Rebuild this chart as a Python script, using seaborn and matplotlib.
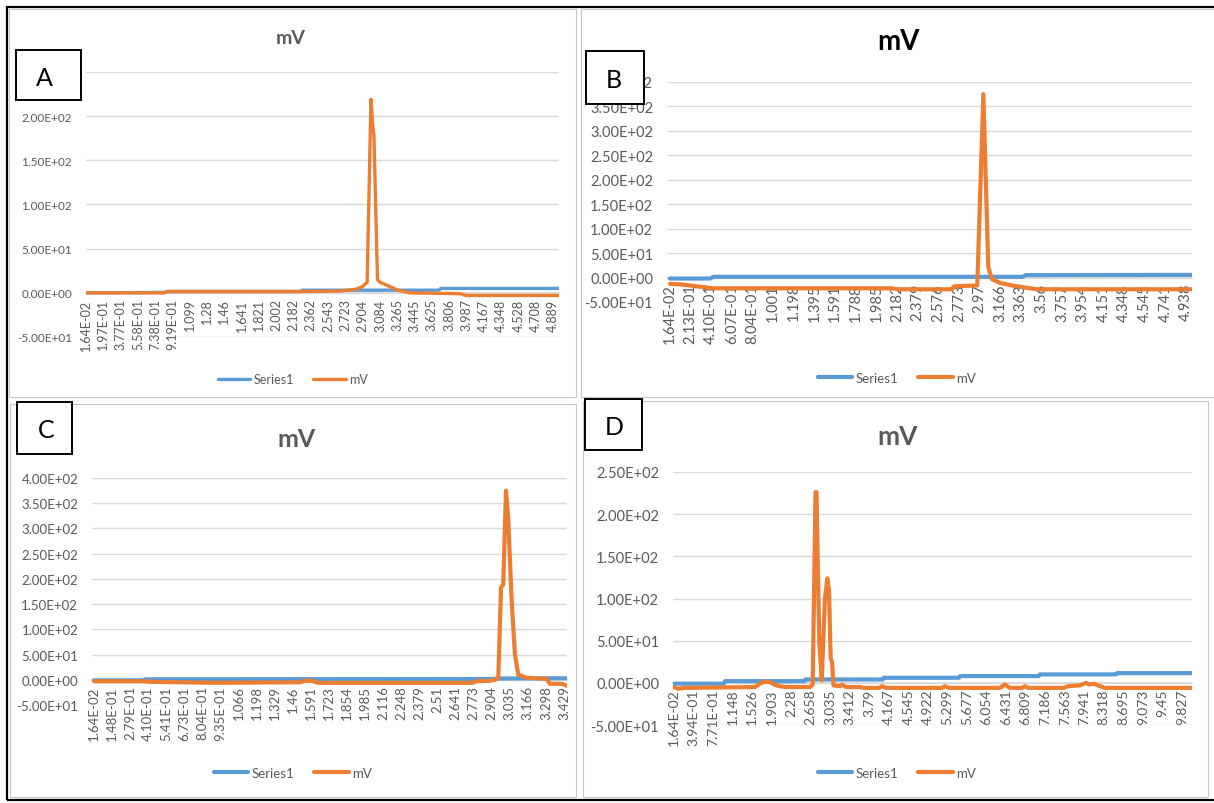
import matplotlib
matplotlib.use("Agg")
import numpy as np
import matplotlib.pyplot as plt
import seaborn as sns
from matplotlib.patches import Rectangle
from matplotlib.lines import Line2D
from matplotlib.ticker import FuncFormatter

# ---------------- data ----------------
A_labels = ["1.64E-02", "1.97E-01", "3.77E-01", "5.58E-01", "7.38E-01", "9.19E-01", "1.099",
            "1.28", "1.46", "1.641", "1.821", "2.002", "2.182", "2.362", "2.543", "2.723",
            "2.904", "3.084", "3.265", "3.445", "3.625", "3.806", "3.987", "4.167", "4.348",
            "4.528", "4.708", "4.889"]
A_mv_t = [0.0164, 0.84, 0.86, 2.25, 2.67, 2.83, 2.90, 2.95, 2.99, 3.006, 3.021, 3.058, 3.084,
          3.167, 3.272, 3.397, 3.919, 3.981, 4.952]
A_mv = [0, 0, 1.5, 1.5, 2, 4, 7, 12, 219, 192, 178, 15, 12, 8, 3, 0, -1, -3, -3]
A_s1_t = [0.0164, 0.84, 0.86, 2.25, 2.27, 3.70, 3.72, 4.952]
A_s1 = [0, 0.5, 1.5, 1.5, 3, 3, 5, 5]

B_labels = ["1.64E-02", "2.13E-01", "4.10E-01", "6.07E-01", "8.04E-01", "1.001", "1.198",
            "1.395", "1.591", "1.788", "1.985", "2.182", "2.379", "2.576", "2.773", "2.97",
            "3.166", "3.363", "3.56", "3.757", "3.954", "4.151", "4.348", "4.545", "4.741",
            "4.938"]
B_mv_t = [0.0164, 0.12, 0.43, 2.13, 2.19, 2.706, 2.725, 2.947, 3.005, 3.052, 3.085, 3.164,
          3.288, 3.422, 3.517, 4.995]
B_mv = [-13, -14, -22, -22, -24, -24, -18, -16, 375, 22, -3, -11, -16.5, -21, -24, -24]
B_s1_t = [0.0164, 0.40, 0.43, 3.38, 3.41, 4.995]
B_s1 = [-2, -2, 1.5, 1.5, 5, 5.5]

C_labels = ["1.64E-02", "1.48E-01", "2.79E-01", "4.10E-01", "5.41E-01", "6.73E-01",
            "8.04E-01", "9.35E-01", "1.066", "1.198", "1.329", "1.46", "1.591", "1.723",
            "1.854", "1.985", "2.116", "2.248", "2.379", "2.51", "2.641", "2.773", "2.904",
            "3.035", "3.166", "3.298", "3.429"]
C_mv_t = [0.0164, 0.372, 0.423, 0.880, 1.512, 1.548, 1.599, 1.643, 2.768, 2.790, 2.892,
          2.928, 2.952, 2.972, 2.988, 3.008, 3.024, 3.049, 3.073, 3.097, 3.158, 3.303,
          3.327, 3.414, 3.451]
C_mv = [-3, -3, -4, -6, -5, -2, -2, -6, -6, -3, -2, 0, 4, 183, 189, 375, 321, 157, 50, 10,
        4, 2, -8, -8, -12]
C_s1_t = [0.0164, 0.37, 0.39, 2.90, 2.95, 3.451]
C_s1 = [-1, -1, 1, 1.5, 2.5, 3]

D_labels = ["1.64E-02", "3.94E-01", "7.71E-01", "1.148", "1.526", "1.903", "2.28", "2.658",
            "3.035", "3.412", "3.79", "4.167", "4.545", "4.922", "5.299", "5.677", "6.054",
            "6.431", "6.809", "7.186", "7.563", "7.941", "8.318", "8.695", "9.073", "9.45",
            "9.827"]
D_mv_t = [0.0164, 0.094, 0.229, 1.581, 1.677, 1.774, 1.870, 1.948, 2.063, 2.179, 2.643,
          2.695, 2.749, 2.768, 2.822, 2.869, 2.932, 2.977, 3.010, 3.042, 3.068, 3.096,
          3.222, 3.260, 3.338, 3.608, 3.686, 3.975, 4.033, 4.111, 5.192, 5.250, 5.327,
          6.312, 6.408, 6.505, 6.737, 6.795, 6.853, 7.548, 7.625, 7.857, 7.973, 8.031,
          8.127, 8.243, 8.340, 10.02]
D_mv = [-5, -7, -6, -5, -1, 1.5, 1, -2, -4, -5, -5, -2, 226, 226, 49, 3, 100, 124, 110, 29,
        25, -3, -4, -2, -5, -5, -6, -6, -4, -6, -6, -4, -6, -6, -2, -6, -6, -4, -6, -6, -4,
        -3, 0, -2, -1, -4, -6, -6]
D_s1_t = [0.0164, 0.98, 1.0, 2.53, 2.55, 4.05, 4.07, 5.52, 5.54, 7.06, 7.08, 8.55, 8.57, 10.02]
D_s1 = [-1, -1, 2, 2, 4, 4, 6, 6, 8, 8, 10, 10, 11.5, 11.5]

SERIES_NAMES = ["Series1", "mV"]

# ---------------- style ----------------
sns.set_theme(style="white")
plt.rcParams['font.family'] = ['Lato', 'DejaVu Sans']

W, H = 1214, 804
fig = plt.figure(figsize=(W / 100, H / 100), dpi=100)
fig.patch.set_facecolor("white")

BLUE = "#5B9BD5"
ORANGE = "#ED7D31"
GRAY = "#595959"
GRID = "#D9D9D9"


def fx(px):
    return px / W


def fy(py):
    return 1 - py / H


def frame(x0, y0, x1, y1, color, lw, face="none", z=0.5):
    fig.add_artist(Rectangle((fx(x0), fy(y1)), (x1 - x0) / W, (y1 - y0) / H,
                             transform=fig.transFigure, facecolor=face,
                             edgecolor=color, lw=lw, zorder=z))


def draw_panel(box, xmin, xmax, ylim, labels, s1_t, s1, mv_t, mv, lw, tick_fs, ytick_fs,
               title_xy, title_fs, title_color, letter, letter_box, letter_xy, legend_xy,
               legend_fs, hide_top=False):
    x0, y0, x1, y1 = box
    ax = fig.add_axes([fx(x0), fy(y1), (x1 - x0) / W, (y1 - y0) / H])
    ax.set_facecolor("none")
    sns.lineplot(x=s1_t, y=s1, ax=ax, color=BLUE, lw=lw, sort=False, estimator=None)
    sns.lineplot(x=mv_t, y=mv, ax=ax, color=ORANGE, lw=lw, sort=False, estimator=None)
    for s in ["top", "right", "left"]:
        ax.spines[s].set_visible(False)
    ax.spines["bottom"].set_position(("data", 0))
    ax.spines["bottom"].set_color(GRID)
    ax.spines["bottom"].set_zorder(0.5)
    ax.set_xlim(xmin, xmax)
    ax.set_ylim(*ylim)
    ax.set_yticks(np.arange(ylim[0], ylim[1] + 1, 50))
    top = ylim[1]

    def fmt(v, p):
        if hide_top and v >= top:
            return ""
        return f"{v:.2E}"

    ax.yaxis.set_major_formatter(FuncFormatter(fmt))
    ax.set_xticks([float(s) for s in labels])
    ax.set_xticklabels(labels)
    ax.grid(axis="y", color=GRID, lw=1)
    ax.grid(axis="x", visible=False)
    ax.set_axisbelow(True)
    ax.tick_params(axis="both", length=0, colors=GRAY)
    ax.tick_params(axis="x", labelsize=tick_fs, pad=4, labelrotation=90)
    ax.tick_params(axis="y", labelsize=ytick_fs, pad=10)
    ax.set_xlabel("")
    ax.set_ylabel("")

    fig.text(fx(title_xy[0]), fy(title_xy[1]), "mV", ha="center", va="center",
             fontsize=title_fs, fontweight="bold", color=title_color)

    bx0, by0, bx1, by1 = letter_box
    frame(bx0, by0, bx1, by1, "black", 1.4, face="white", z=5)
    fig.text(fx(letter_xy[0]), fy(letter_xy[1]), letter, ha="center", va="center",
             fontsize=18, color="black", zorder=6)

    handles = [Line2D([], [], color=BLUE, lw=lw), Line2D([], [], color=ORANGE, lw=lw)]
    fig.legend(handles=handles, labels=SERIES_NAMES, loc="center",
               bbox_to_anchor=(fx(legend_xy[0]), fy(legend_xy[1])), ncol=2,
               frameon=False, fontsize=legend_fs, handlelength=2.6, handletextpad=0.3,
               columnspacing=1.5, labelcolor=GRAY)


# panel frames (light gray) and outer black border
frame(9, 10, 576, 398, "#C8C8C8", 0.8)
frame(581, 10, 1220, 398, "#C8C8C8", 0.8)
frame(10, 405, 576, 798, "#C8C8C8", 0.8)
frame(583, 402, 1208, 798, "#C8C8C8", 0.8)
frame(7, 8, 1222, 801, "black", 1.6, z=4)

draw_panel((86, 73, 559, 338), 0.0164, 4.952, (-50, 250), A_labels, A_s1_t, A_s1,
           A_mv_t, A_mv, 2.4, 9, 8.5, (291, 39), 14, GRAY, "A", (16, 51, 81, 101),
           (44, 79), (293, 380), 9, hide_top=True)
draw_panel((667, 83, 1192, 303), -0.0122, 4.995, (-50, 400), B_labels, B_s1_t, B_s1,
           B_mv_t, B_mv, 3, 10.5, 10.5, (898, 42), 20, "black", "B", (586, 52, 644, 105),
           (614, 81), (897, 379), 9.5)
draw_panel((92, 479, 567, 706), 0.0019, 3.451, (-50, 400), C_labels, C_s1_t, C_s1,
           C_mv_t, C_mv, 3, 9.5, 9.5, (297, 440), 18, GRAY, "C", (17, 403, 72, 455),
           (46, 431), (293, 774), 9.5)
draw_panel((673, 473, 1192, 726), -0.003, 10.02, (-50, 250), D_labels, D_s1_t, D_s1,
           D_mv_t, D_mv, 3, 10, 10.5, (898, 437), 19, GRAY, "D", (585, 400, 642, 451),
           (614, 428), (897, 774), 9.5)

fig.savefig("out.png", dpi=100, facecolor="white")
